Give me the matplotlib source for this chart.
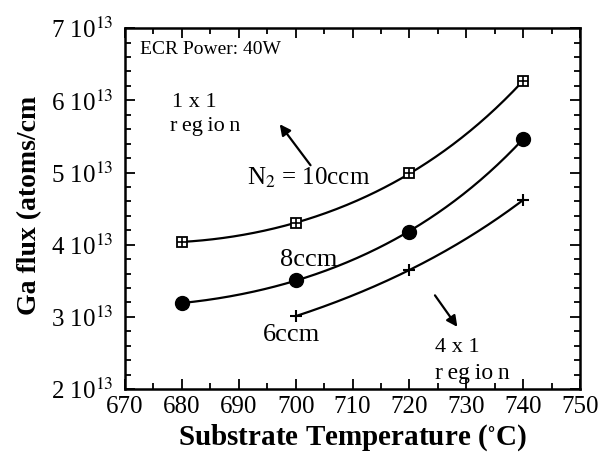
import numpy as np
import matplotlib
matplotlib.use('Agg')
import matplotlib.pyplot as plt
from matplotlib.ticker import MultipleLocator, FuncFormatter

plt.rcParams['font.family'] = ['Liberation Serif', 'DejaVu Serif']
plt.rcParams['mathtext.fontset'] = 'stix'

# Ga flux in units of 1e13 atoms/cm^2 s
temp_10 = [680, 700, 720, 740]
flux_10 = [4.04, 4.30, 4.99, 6.27]
temp_8 = [680, 700, 720, 740]
flux_8 = [3.19, 3.51, 4.18, 5.47]
temp_6 = [700, 720, 740]
flux_6 = [3.01, 3.65, 4.62]


def smooth(x, y):
    # exponential-like fit drawn through the measured points
    x = np.asarray(x, float)
    c = np.polyfit(x, np.log(y), 2)
    xs = np.linspace(x.min(), x.max(), 200)
    return xs, np.exp(np.polyval(c, xs))


fig = plt.figure(figsize=(6.10, 4.54), dpi=100)
ax = fig.add_axes([0.205, 0.143, 0.746, 0.795])

for x, y in [(temp_10, flux_10), (temp_8, flux_8), (temp_6, flux_6)]:
    xs, ys = smooth(x, y)
    ax.plot(xs, ys, color='black', lw=1.6, zorder=2)

ax.plot(temp_10, flux_10, 's', ms=7, mfc='white', mec='black', mew=1.3, zorder=3)
ax.plot(temp_10, flux_10, '+', ms=7, color='black', mew=1.2, zorder=4)
ax.plot(temp_8, flux_8, 'o', ms=10, color='black', zorder=3)
ax.plot(temp_6, flux_6, '+', ms=9, color='black', mew=1.5, zorder=3)

ax.set_xlim(670, 750)
ax.set_ylim(2, 7)
ax.xaxis.set_major_locator(MultipleLocator(10))
ax.xaxis.set_minor_locator(MultipleLocator(5))
ax.yaxis.set_major_locator(MultipleLocator(1))
ax.yaxis.set_minor_locator(MultipleLocator(0.2))
ax.yaxis.set_major_formatter(FuncFormatter(lambda v, p: f'{int(round(v))} 10$^{{13}}$'))
ax.tick_params(which='both', direction='in', top=True, right=True, width=1.3)
ax.tick_params(which='major', length=7, pad=4)
ax.tick_params(which='minor', length=4)
ax.tick_params(axis='x', labelsize=18, pad=5)
ax.tick_params(axis='y', labelsize=18, pad=8)
for lbl in ax.get_yticklabels():
    lbl.set_va('center_baseline')
for s in ax.spines.values():
    s.set_linewidth(1.8)

ax.set_xlabel('Substrate Temperature ($^{\\circ}$C)', fontsize=21, fontweight='bold', labelpad=3)
fig.text(0.048, 0.548, 'Ga flux (atoms/cm', rotation=90, fontsize=20,
         fontweight='bold', ha='center', va='center')

ax.text(672.6, 6.70, 'ECR Power: 40W', fontsize=14, va='center')
ax.text(678.3, 5.97, '1 x 1', fontsize=16, va='center')
ax.text(677.9, 5.64, 'r\u2009eg\u2009io\u2009n', fontsize=16, va='center')
ax.text(691.5, 4.92, 'N$_2$ = 10ccm', fontsize=18, va='center')
ax.text(697.3, 3.79, '8ccm', fontsize=19, va='center')
ax.text(694.3, 2.75, '6ccm', fontsize=19, va='center')
ax.text(724.5, 2.58, '4 x 1', fontsize=16, va='center')
ax.text(724.5, 2.22, 'r\u2009eg\u2009io\u2009n', fontsize=17, va='center')

arrow = dict(arrowstyle='-|>', color='black', lw=1.6, mutation_scale=16)
ax.annotate('', xy=(696.9, 5.70), xytext=(702.9, 5.07), arrowprops=arrow)
ax.annotate('', xy=(728.7, 2.83), xytext=(724.2, 3.33), arrowprops=arrow)

fig.savefig('out.png', dpi=100)
